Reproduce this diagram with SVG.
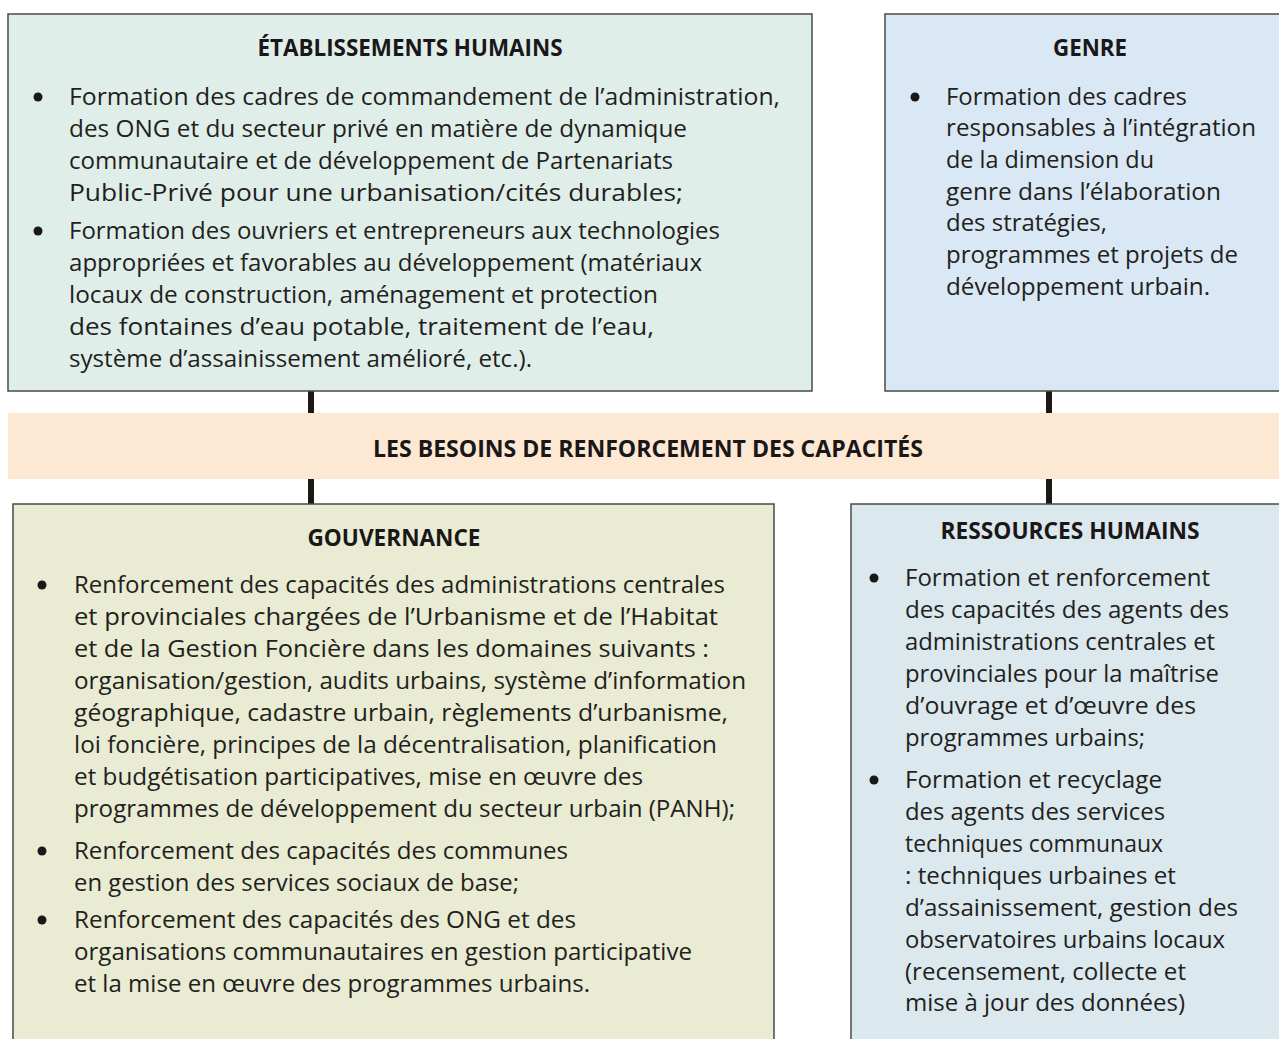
<svg xmlns="http://www.w3.org/2000/svg" width="1279" height="1039" viewBox="0 0 1279 1039">
<style>
.box{stroke:#4a4a46;stroke-width:1.5}
.t{font-family:"Open Sans","Noto Sans","Liberation Sans",sans-serif;font-size:24px;fill:#231f20}
.h{font-family:"Open Sans","Noto Sans","Liberation Sans",sans-serif;font-size:23.5px;font-weight:bold;fill:#1a1718;text-anchor:middle}
.b{fill:#1a1718}
.c{fill:#1c1814}
</style>
<rect width="1279" height="1039" fill="#ffffff"/>
<g id="connectors">
<rect class="c" x="308" y="391" width="6" height="22"/>
<rect class="c" x="308" y="479" width="6" height="25"/>
<rect class="c" x="1046" y="391" width="6" height="22"/>
<rect class="c" x="1046" y="479" width="6" height="25"/>
</g>
<g id="band">
<rect x="8" y="413" width="1271" height="66" fill="#fde8d4"/>
<text class="h" x="648" y="457" textLength="550" lengthAdjust="spacingAndGlyphs">LES BESOINS DE RENFORCEMENT DES CAPACITÉS</text>
</g>
<g id="etablissements">
<rect class="box" x="8" y="14" width="804" height="377" fill="#e0eeea"/>
<text class="h" x="410" y="56" textLength="305" lengthAdjust="spacingAndGlyphs">ÉTABLISSEMENTS HUMAINS</text>
<circle class="b" cx="38" cy="97" r="4.5"/>
<circle class="b" cx="38" cy="231" r="4.5"/>
<text class="t" x="69" y="105" textLength="711" lengthAdjust="spacingAndGlyphs">Formation des cadres de commandement de l’administration,</text>
<text class="t" x="69" y="137" textLength="618" lengthAdjust="spacingAndGlyphs">des ONG et du secteur privé en matière de dynamique</text>
<text class="t" x="69" y="169" textLength="604" lengthAdjust="spacingAndGlyphs">communautaire et de développement de Partenariats</text>
<text class="t" x="69" y="201" textLength="614" lengthAdjust="spacingAndGlyphs">Public-Privé pour une urbanisation/cités durables;</text>
<text class="t" x="69" y="239" textLength="651" lengthAdjust="spacingAndGlyphs">Formation des ouvriers et entrepreneurs aux technologies</text>
<text class="t" x="69" y="271" textLength="633" lengthAdjust="spacingAndGlyphs">appropriées et favorables au développement (matériaux</text>
<text class="t" x="69" y="303" textLength="589" lengthAdjust="spacingAndGlyphs">locaux de construction, aménagement et protection</text>
<text class="t" x="69" y="335" textLength="585" lengthAdjust="spacingAndGlyphs">des fontaines d’eau potable, traitement de l’eau,</text>
<text class="t" x="69" y="367" textLength="463" lengthAdjust="spacingAndGlyphs">système d’assainissement amélioré, etc.).</text>
</g>
<g id="genre">
<rect class="box" x="885" y="14" width="410" height="377" fill="#d9e8f4"/>
<text class="h" x="1090" y="56" textLength="74" lengthAdjust="spacingAndGlyphs">GENRE</text>
<circle class="b" cx="915" cy="97" r="4.5"/>
<text class="t" x="946" y="105" textLength="241" lengthAdjust="spacingAndGlyphs">Formation des cadres</text>
<text class="t" x="946" y="136" textLength="310" lengthAdjust="spacingAndGlyphs">responsables à l’intégration</text>
<text class="t" x="946" y="168" textLength="208" lengthAdjust="spacingAndGlyphs">de la dimension du</text>
<text class="t" x="946" y="200" textLength="275" lengthAdjust="spacingAndGlyphs">genre dans l’élaboration</text>
<text class="t" x="946" y="231" textLength="161" lengthAdjust="spacingAndGlyphs">des stratégies,</text>
<text class="t" x="946" y="263" textLength="292" lengthAdjust="spacingAndGlyphs">programmes et projets de</text>
<text class="t" x="946" y="295" textLength="264" lengthAdjust="spacingAndGlyphs">développement urbain.</text>
</g>
<g id="gouvernance">
<rect class="box" x="13" y="504" width="761" height="545" fill="#e9ebd3"/>
<text class="h" x="394" y="546" textLength="173" lengthAdjust="spacingAndGlyphs">GOUVERNANCE</text>
<circle class="b" cx="42" cy="585" r="4.5"/>
<circle class="b" cx="42" cy="851" r="4.5"/>
<circle class="b" cx="42" cy="920" r="4.5"/>
<text class="t" x="74" y="593" textLength="651" lengthAdjust="spacingAndGlyphs">Renforcement des capacités des administrations centrales</text>
<text class="t" x="74" y="625" textLength="644" lengthAdjust="spacingAndGlyphs">et provinciales chargées de l’Urbanisme et de l’Habitat</text>
<text class="t" x="74" y="657" textLength="635" lengthAdjust="spacingAndGlyphs">et de la Gestion Foncière dans les domaines suivants :</text>
<text class="t" x="74" y="689" textLength="672" lengthAdjust="spacingAndGlyphs">organisation/gestion, audits urbains, système d’information</text>
<text class="t" x="74" y="721" textLength="654" lengthAdjust="spacingAndGlyphs">géographique, cadastre urbain, règlements d’urbanisme,</text>
<text class="t" x="74" y="753" textLength="643" lengthAdjust="spacingAndGlyphs">loi foncière, principes de la décentralisation, planification</text>
<text class="t" x="74" y="785" textLength="569" lengthAdjust="spacingAndGlyphs">et budgétisation participatives, mise en œuvre des</text>
<text class="t" x="74" y="817" textLength="661" lengthAdjust="spacingAndGlyphs">programmes de développement du secteur urbain (PANH);</text>
<text class="t" x="74" y="859" textLength="494" lengthAdjust="spacingAndGlyphs">Renforcement des capacités des communes</text>
<text class="t" x="74" y="891" textLength="445" lengthAdjust="spacingAndGlyphs">en gestion des services sociaux de base;</text>
<text class="t" x="74" y="928" textLength="502" lengthAdjust="spacingAndGlyphs">Renforcement des capacités des ONG et des</text>
<text class="t" x="74" y="960" textLength="618" lengthAdjust="spacingAndGlyphs">organisations communautaires en gestion participative</text>
<text class="t" x="74" y="992" textLength="516" lengthAdjust="spacingAndGlyphs">et la mise en œuvre des programmes urbains.</text>
</g>
<g id="ressources">
<rect class="box" x="851" y="504" width="440" height="545" fill="#dbe8ed"/>
<text class="h" x="1070" y="539" textLength="259" lengthAdjust="spacingAndGlyphs">RESSOURCES HUMAINS</text>
<circle class="b" cx="874" cy="578" r="4.5"/>
<circle class="b" cx="874" cy="780" r="4.5"/>
<text class="t" x="905" y="586" textLength="305" lengthAdjust="spacingAndGlyphs">Formation et renforcement</text>
<text class="t" x="905" y="618" textLength="324" lengthAdjust="spacingAndGlyphs">des capacités des agents des</text>
<text class="t" x="905" y="650" textLength="310" lengthAdjust="spacingAndGlyphs">administrations centrales et</text>
<text class="t" x="905" y="682" textLength="314" lengthAdjust="spacingAndGlyphs">provinciales pour la maîtrise</text>
<text class="t" x="905" y="714" textLength="291" lengthAdjust="spacingAndGlyphs">d’ouvrage et d’œuvre des</text>
<text class="t" x="905" y="746" textLength="240" lengthAdjust="spacingAndGlyphs">programmes urbains;</text>
<text class="t" x="905" y="788" textLength="257" lengthAdjust="spacingAndGlyphs">Formation et recyclage</text>
<text class="t" x="905" y="820" textLength="260" lengthAdjust="spacingAndGlyphs">des agents des services</text>
<text class="t" x="905" y="852" textLength="258" lengthAdjust="spacingAndGlyphs">techniques communaux</text>
<text class="t" x="905" y="884" textLength="271" lengthAdjust="spacingAndGlyphs">: techniques urbaines et</text>
<text class="t" x="905" y="916" textLength="333" lengthAdjust="spacingAndGlyphs">d’assainissement, gestion des</text>
<text class="t" x="905" y="948" textLength="320" lengthAdjust="spacingAndGlyphs">observatoires urbains locaux</text>
<text class="t" x="905" y="980" textLength="281" lengthAdjust="spacingAndGlyphs">(recensement, collecte et</text>
<text class="t" x="905" y="1011" textLength="280" lengthAdjust="spacingAndGlyphs">mise à jour des données)</text>
</g>
</svg>
